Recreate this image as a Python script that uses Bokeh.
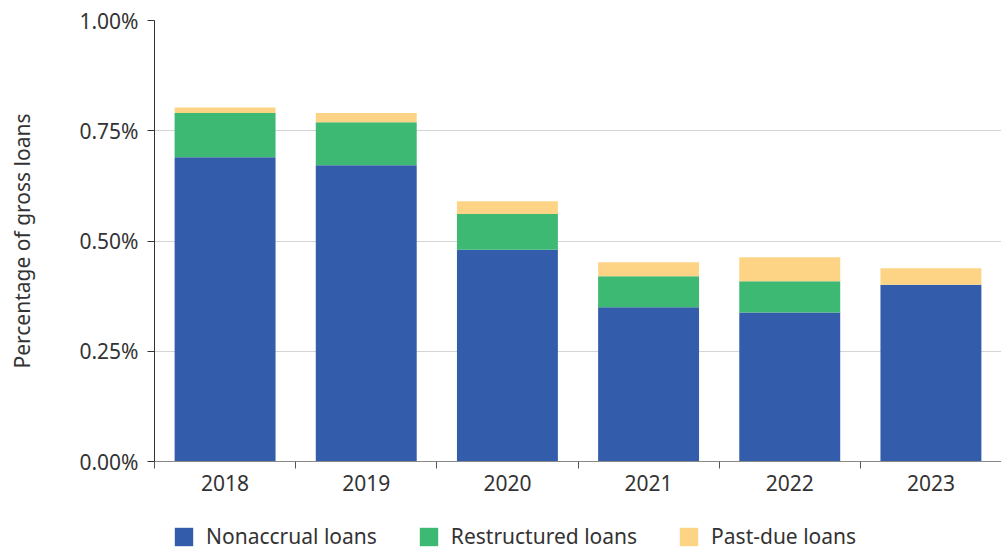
from bokeh.plotting import figure
from bokeh.layouts import column
from bokeh.models import (Range1d, FixedTicker, PrintfTickFormatter, Legend,
                          LegendItem, ColumnDataSource)
from bokeh.embed import file_html
from bokeh.resources import INLINE

years = ["2018", "2019", "2020", "2021", "2022", "2023"]
nonaccrual = [0.690, 0.672, 0.480, 0.350, 0.338, 0.401]
restructured = [0.100, 0.097, 0.081, 0.070, 0.071, 0.000]
past_due = [0.013, 0.021, 0.029, 0.032, 0.054, 0.037]
y_ticks = [0.0, 0.25, 0.50, 0.75, 1.00]
series_names = ["Nonaccrual loans", "Restructured loans", "Past-due loans"]
colors = ["#335DAB", "#3DB974", "#FDD485"]

FONT = "Noto Sans"
TXT = "#333333"
FS = "21px"
W = 1001

x_pos = [i + 0.5 for i in range(len(years))]
source = ColumnDataSource(dict(x=x_pos, nonaccrual=nonaccrual,
                               restructured=restructured, past_due=past_due))

p = figure(width=W, height=505, x_range=Range1d(0, len(years)),
           y_range=Range1d(0, 1.0), output_backend="svg", toolbar_location=None,
           min_border_left=154, min_border_right=0, min_border_top=20,
           min_border_bottom=44)
p.outline_line_color = None

renderers = p.vbar_stack(["nonaccrual", "restructured", "past_due"], x="x",
                         width=0.715, color=colors, line_width=0, source=source)

# x axis
p.xaxis.ticker = FixedTicker(ticks=x_pos, minor_ticks=list(range(len(years) + 1)))
p.xaxis.major_label_overrides = {x: y for x, y in zip(x_pos, years)}
p.xaxis.major_tick_line_color = None
p.xaxis.minor_tick_in = 0
p.xaxis.minor_tick_out = 7
p.xaxis.minor_tick_line_color = "#555555"
p.xaxis.axis_line_color = "#888888"
p.xaxis.major_label_standoff = 6
p.xaxis.major_label_text_font = FONT
p.xaxis.major_label_text_font_size = FS
p.xaxis.major_label_text_color = TXT
p.xgrid.grid_line_color = None

# y axis
p.yaxis.ticker = FixedTicker(ticks=y_ticks)
p.yaxis.formatter = PrintfTickFormatter(format="%.2f%%")
p.yaxis.major_tick_in = 0
p.yaxis.major_tick_out = 7
p.yaxis.major_tick_line_color = "#333333"
p.yaxis.axis_line_color = "#333333"
p.yaxis.major_label_standoff = 9
p.yaxis.major_label_text_font = FONT
p.yaxis.major_label_text_font_size = FS
p.yaxis.major_label_text_color = TXT
p.yaxis.axis_label = "Percentage of gross loans"
p.yaxis.axis_label_text_font = FONT
p.yaxis.axis_label_text_font_size = FS
p.yaxis.axis_label_text_font_style = "normal"
p.yaxis.axis_label_text_color = TXT
p.yaxis.axis_label_standoff = 40
p.ygrid.grid_line_color = "#d4d4d4"
p.ygrid.grid_line_width = 1

# legend strip (swatch glyphs are zero-height, only their legend entries show)
pl = figure(width=W, height=45, x_range=Range1d(0, 1), y_range=Range1d(0, 1),
            output_backend="svg", toolbar_location=None,
            x_axis_location=None, y_axis_location=None,
            min_border_left=0, min_border_right=0, min_border_top=0,
            min_border_bottom=0)
pl.outline_line_color = None
pl.grid.grid_line_color = None
leg_renderers = [pl.vbar(x=[0.5], top=[0], bottom=[0], width=0.0, color=c,
                         line_width=0) for c in colors]

legend = Legend(items=[LegendItem(label=n, renderers=[r])
                       for n, r in zip(series_names, leg_renderers)],
                orientation="horizontal", location=(18, 0))
legend.glyph_width = 23
legend.glyph_height = 23
legend.label_standoff = 11
legend.spacing = 40
legend.padding = 0
legend.margin = 0
legend.border_line_color = None
legend.background_fill_alpha = 0
legend.label_text_font = FONT
legend.label_text_font_size = FS
legend.label_text_color = TXT
pl.add_layout(legend, "center")

layout = column(p, pl, spacing=0)
open("out.html", "w").write(file_html(layout, INLINE))
